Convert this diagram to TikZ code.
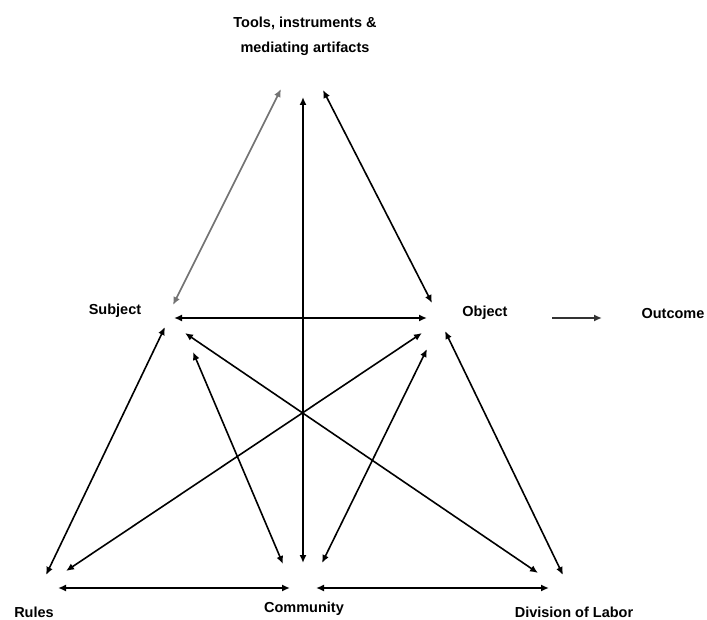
\documentclass[tikz,border=0pt]{standalone}
\usepackage{fontspec}
\setmainfont{Liberation Sans}
\usetikzlibrary{arrows.meta}
\begin{document}
\begin{tikzpicture}[x=1pt,y=-1pt,
  lbl/.style={font=\bfseries\fontsize{14.5}{25}\selectfont, inner sep=0pt},
  link/.style={line width=1.6pt, {Latex[length=8pt,width=7pt]}-{Latex[length=8pt,width=7pt]}},
  oneway/.style={line width=1.8pt, -{Latex[length=8pt,width=7pt]}}]
\useasboundingbox (0,0) rectangle (707,620);

% labels
\node[lbl, align=center] (tools) at (305,36) {Tools, instruments \&\\mediating artifacts};
\node[lbl] (subject) at (115,311) {Subject};
\node[lbl] (object) at (485,313) {Object};
\node[lbl] (outcome) at (673,314) {Outcome};
\node[lbl] (rules) at (34,612) {Rules};
\node[lbl] (community) at (304,609) {Community};
\node[lbl] (division) at (574,612) {Division of Labor};

% arrow end points
\coordinate (tL) at (281,89);
\coordinate (tM) at (303,97);
\coordinate (tR) at (323,90);
\coordinate (sT) at (173,305);
\coordinate (sH) at (174,318);
\coordinate (sR) at (165,327);
\coordinate (sD) at (185,333);
\coordinate (sC) at (193,352);
\coordinate (oT) at (432,303);
\coordinate (oH) at (427,318);
\coordinate (oR) at (422,333);
\coordinate (oD) at (445,331);
\coordinate (oC) at (427,349);
\coordinate (oOut) at (552,318);
\coordinate (outIn) at (602,318);
\coordinate (rS) at (46,575);
\coordinate (rO) at (66,571);
\coordinate (rC) at (58,588);
\coordinate (cS) at (283,564);
\coordinate (cM) at (303,563);
\coordinate (cO) at (322,563);
\coordinate (cR) at (290,588);
\coordinate (cD) at (316,588);
\coordinate (dS) at (538,573);
\coordinate (dO) at (563,575);
\coordinate (dC) at (549,588);

% connectors
\draw[link, draw=black!55, fill=black!55] (sT) -- (tL);
\draw[link] (tM) -- (cM);
\draw[link] (tR) -- (oT);
\draw[link] (sH) -- (oH);
\draw[oneway, draw=black!80] (oOut) -- (outIn);
\draw[link] (sR) -- (rS);
\draw[link] (oR) -- (rO);
\draw[link] (sD) -- (dS);
\draw[link] (sC) -- (cS);
\draw[link] (oC) -- (cO);
\draw[link] (oD) -- (dO);
\draw[link] (rC) -- (cR);
\draw[link] (cD) -- (dC);
\end{tikzpicture}
\end{document}
